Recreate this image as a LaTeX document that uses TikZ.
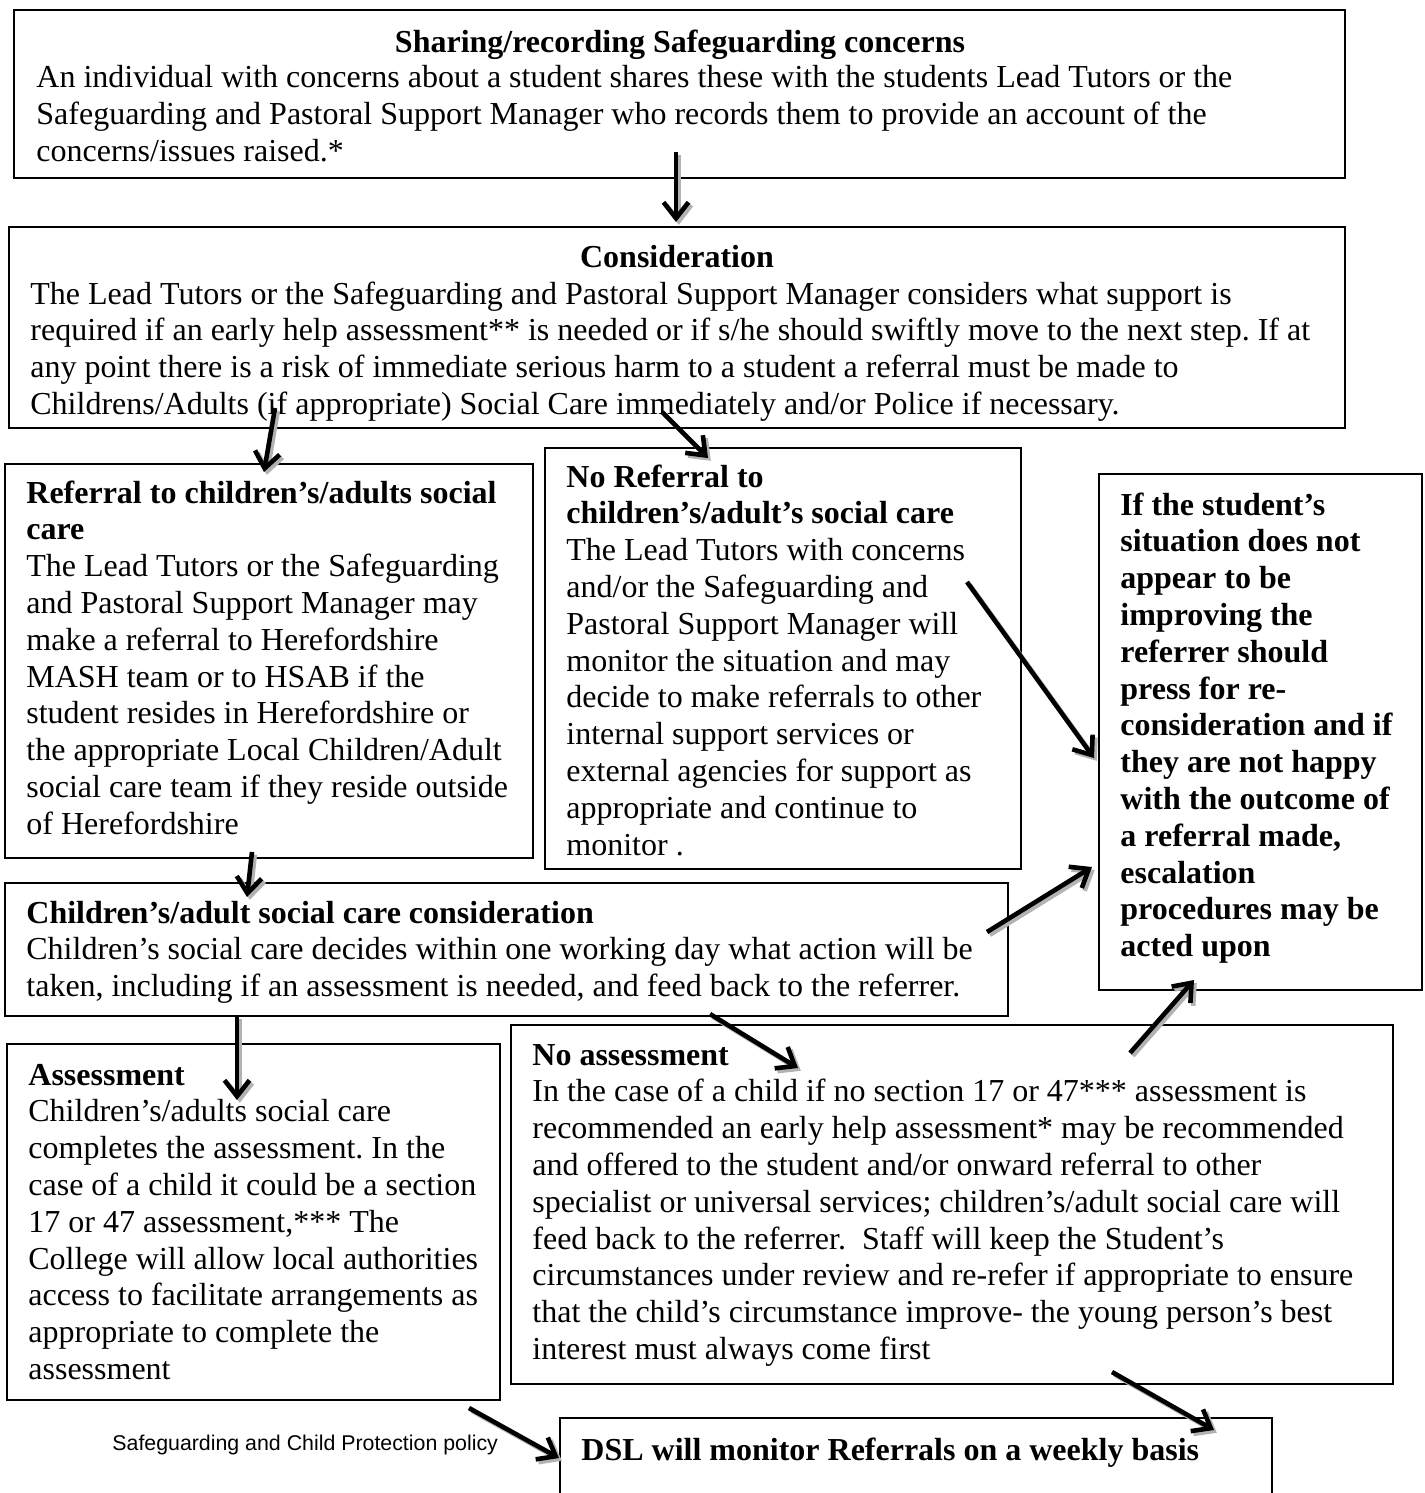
\documentclass[tikz,border=0pt]{standalone}
\usepackage{fontspec}
\setmainfont{Liberation Serif}
\newfontfamily\footfont{Liberation Sans}
\usetikzlibrary{arrows.meta,fit}
\begin{document}
\begin{tikzpicture}[x=0.5pt,y=-0.5pt,
  box/.style={draw=black,line width=1.1pt,inner sep=0pt,fill=none},
  txt/.style={anchor=base west,inner sep=0pt,align=left,text width=700pt,
    font=\fontsize{16}{18.4}\selectfont,
    execute at begin node={\frenchspacing\spaceskip=0pt\relax\xspaceskip=0pt\relax}},
  ttl/.style={anchor=base,inner sep=0pt,font=\fontsize{16}{18.4}\selectfont\bfseries},
  arr/.style={line width=2.3pt,-{Straight Barb[length=8pt,width=12.5pt]}},
  arrsh/.style={line width=2.3pt,draw=black!30,-{Straight Barb[length=8pt,width=12.5pt]}}]
\useasboundingbox (0,0) rectangle (1424,1493);
\clip (0,0) rectangle (1424,1493);
\fill[white] (0,0) rectangle (1424,1493);

% boxes
\node[box,fit={(14,10) (1345,178)}] (b1) {};
\node[box,fit={(9,227) (1345,428)}] (b2) {};
\node[box,fit={(5,464) (533,858)}] (b3) {};
\node[box,fit={(545,448) (1021,869)}] (b4) {};
\node[box,fit={(1099,474) (1422,990)}] (b5) {};
\node[box,fit={(5,883) (1008,1016)}] (b6) {};
\node[box,fit={(7,1044) (500,1400)}] (b7) {};
\node[box,fit={(511,1025) (1393,1384)}] (b8) {};
\node[box,fit={(560,1418) (1272,1540)}] (b9) {};

% texts
\node[ttl] (t1h) at (680,53) {Sharing/recording Safeguarding concerns};
\node[txt] (t1) at (36,88) {An individual with concerns about a student shares these with the students Lead Tutors or the\\
Safeguarding and Pastoral Support Manager who records them to provide an account of the\\
concerns/issues raised.*};

\node[ttl] (t2h) at (677,267) {Consideration};
\node[txt] (t2) at (30,304) {The Lead Tutors or the Safeguarding and Pastoral Support Manager considers what support is\\
required if an early help assessment** is needed or if s/he should swiftly move to the next step. If at\\
any point there is a risk of immediate serious harm to a student a referral must be made to\\
Childrens/Adults (if appropriate) Social Care immediately and/or Police if necessary.};

\node[txt] (t3) at (26,503) {\textbf{Referral to children’s/adults social}\\
\textbf{care}\\
The Lead Tutors or the Safeguarding\\
and Pastoral Support Manager may\\
make a referral to Herefordshire\\
MASH team or to HSAB if the\\
student resides in Herefordshire or\\
the appropriate Local Children/Adult\\
social care team if they reside outside\\
of Herefordshire};

\node[txt] (t4) at (566,487) {\textbf{No Referral to}\\
\textbf{children’s/adult’s social care}\\
The Lead Tutors with concerns\\
and/or the Safeguarding and\\
Pastoral Support Manager will\\
monitor the situation and may\\
decide to make referrals to other\\
internal support services or\\
external agencies for support as\\
appropriate and continue to\\
monitor .};

\node[txt,font=\fontsize{16}{18.4}\selectfont\bfseries] (t5) at (1120,515) {If the student’s\\
situation does not\\
appear to be\\
improving the\\
referrer should\\
press for re-\\
consideration and if\\
they are not happy\\
with the outcome of\\
a referral made,\\
escalation\\
procedures may be\\
acted upon};

\node[txt] (t6) at (26,923) {\textbf{Children’s/adult social care consideration}\\
Children’s social care decides within one working day what action will be\\
taken, including if an assessment is needed, and feed back to the referrer.};

\node[txt] (t7) at (28,1085) {\textbf{Assessment}\\
Children’s/adults social care\\
completes the assessment. In the\\
case of a child it could be a section\\
17 or 47 assessment,*** The\\
College will allow local authorities\\
access to facilitate arrangements as\\
appropriate to complete the\\
assessment};

\node[txt] (t8) at (532,1065) {\textbf{No assessment}\\
In the case of a child if no section 17 or 47*** assessment is\\
recommended an early help assessment* may be recommended\\
and offered to the student and/or onward referral to other\\
specialist or universal services; children’s/adult social care will\\
feed back to the referrer.\ \ Staff will keep the Student’s\\
circumstances under review and re-refer if appropriate to ensure\\
that the child’s circumstance improve- the young person’s best\\
interest must always come first};

\node[txt,font=\fontsize{16}{18.4}\selectfont\bfseries] (t9) at (581,1460) {DSL will monitor Referrals on a weekly basis};

\node[anchor=base west,inner sep=0pt,font=\footfont\fontsize{10.67}{12}\selectfont] (foot) at (112,1450) {Safeguarding and Child Protection policy};

% connector end points
\coordinate (a1s) at (676,152);  \coordinate (a1e) at (676,222);
\coordinate (a2s) at (275,408);  \coordinate (a2e) at (264,472);
\coordinate (a3s) at (662,412);  \coordinate (a3e) at (708,458);
\coordinate (a4s) at (967,582);  \coordinate (a4e) at (1094,758);
\coordinate (a5s) at (252,852);  \coordinate (a5e) at (247,897);
\coordinate (a6s) at (987,932);  \coordinate (a6e) at (1092,867);
\coordinate (a7s) at (237,1016); \coordinate (a7e) at (237,1100);
\coordinate (a8s) at (710,1014); \coordinate (a8e) at (798,1068);
\coordinate (a9s) at (1130,1053);\coordinate (a9e) at (1194,980);
\coordinate (a10s) at (1112,1372);\coordinate (a10e) at (1214,1430);
\coordinate (a11s) at (469,1408);\coordinate (a11e) at (559,1458);

\begin{scope}[transform canvas={shift={(1.4pt,-1.4pt)}}]
\foreach \i in {1,...,11} \draw[arrsh] (a\i s) -- (a\i e);
\end{scope}
\foreach \i in {1,...,11} \draw[arr] (a\i s) -- (a\i e);
\end{tikzpicture}
\end{document}
